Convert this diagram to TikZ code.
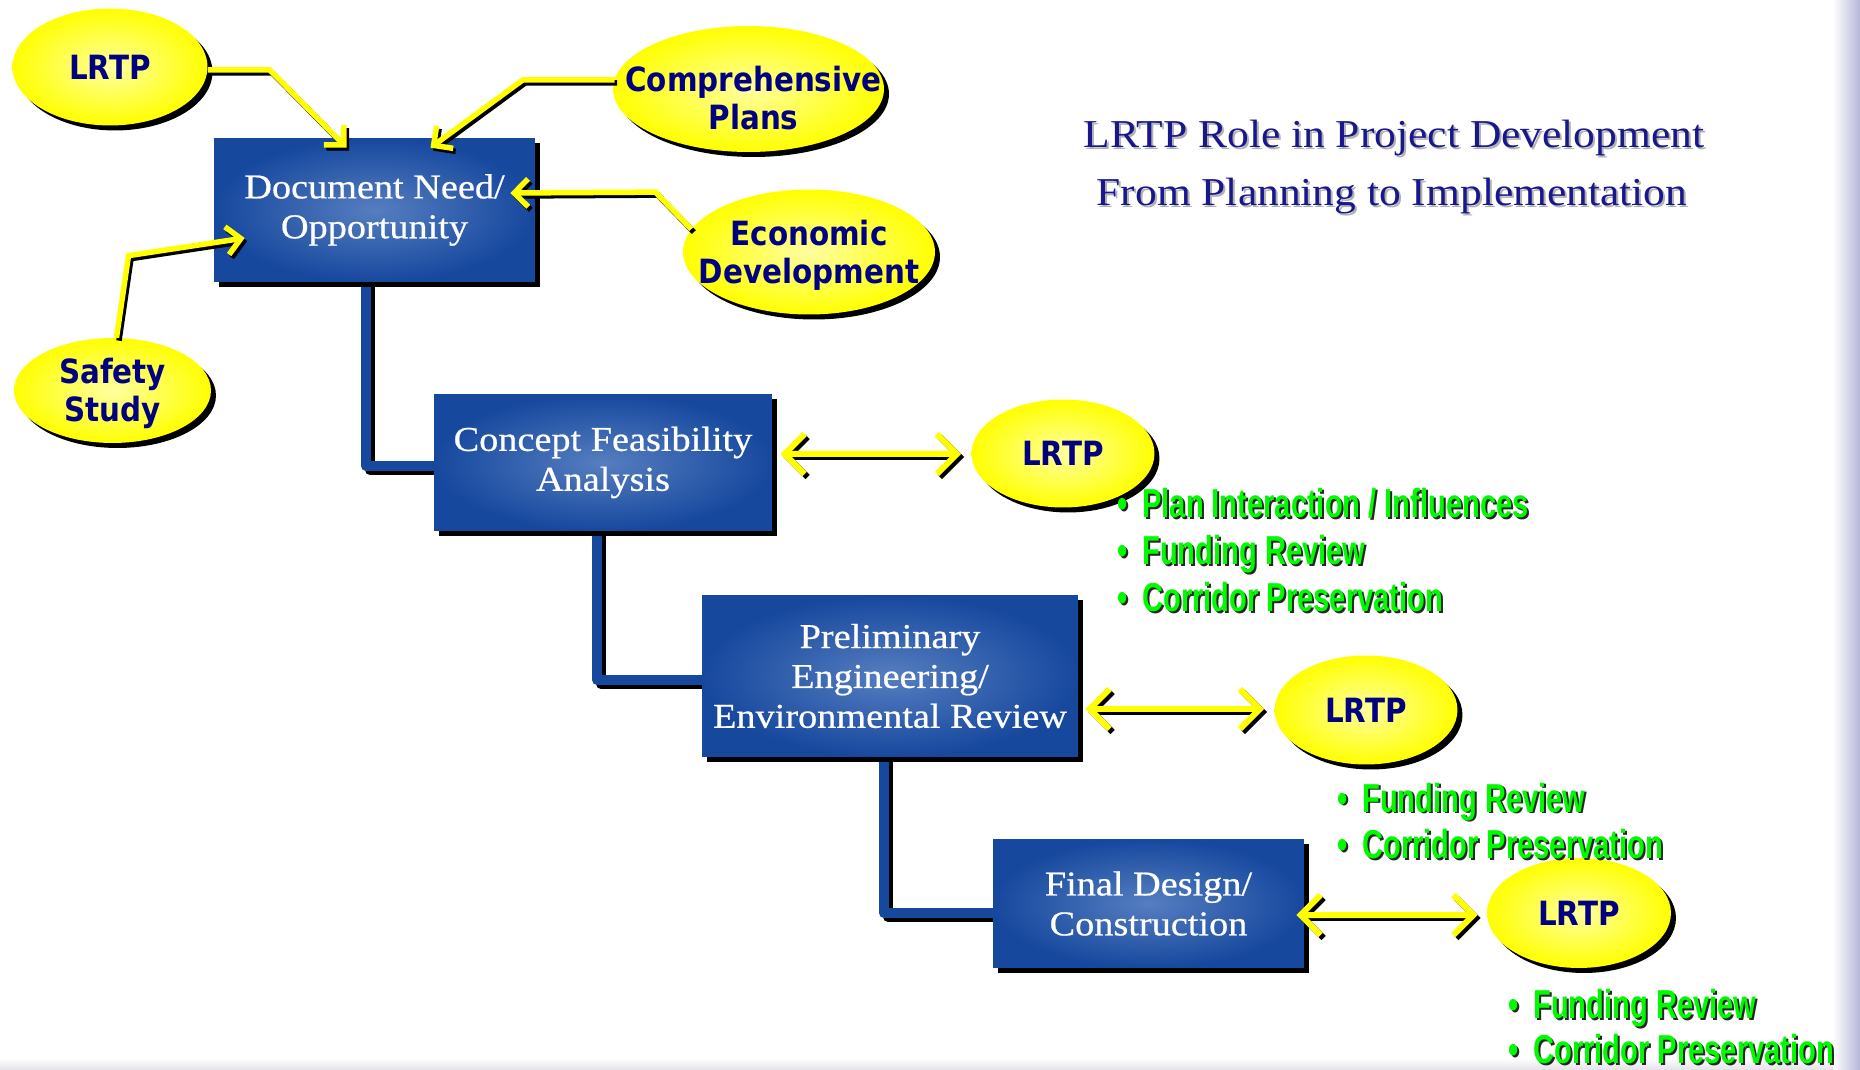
\documentclass[tikz,border=0pt]{standalone}
\usepackage{fontspec}
\usepackage{tikz}
\usetikzlibrary{calc, shapes, shadows, arrows.meta}

\newfontfamily\stepfont{Liberation Serif}[FakeStretch=1.1, FakeBold=0.6]
\newfontfamily\headfont{Liberation Serif}[FakeStretch=1.1]
\newfontfamily\ovalfont{DejaVu Sans}[FakeStretch=0.88]
\newfontfamily\notefont{Liberation Sans}[FakeStretch=0.72]

\definecolor{boxblue}{RGB}{22,72,158}
\definecolor{boxlight}{RGB}{86,126,192}
\definecolor{ovalyellow}{RGB}{255,255,0}
\definecolor{ovallight}{RGB}{255,255,160}
\definecolor{ovalnavy}{RGB}{0,0,128}
\definecolor{notegreen}{RGB}{0,250,0}
\definecolor{headnavy}{RGB}{24,24,140}
\definecolor{edgeblue}{RGB}{182,182,216}
\definecolor{edgegray}{RGB}{226,226,232}

\pgfdeclarelayer{background}
\pgfsetlayers{background,main}

\begin{document}
\begin{tikzpicture}[x=0.02cm, y=-0.02cm]

    \tikzstyle{stepbox}=[rectangle, inner sep=0pt, inner color=boxlight, outer color=boxblue, text=white, align=center, font=\stepfont\fontsize{19.8}{22.7}\selectfont, drop shadow={shadow xshift=1mm, shadow yshift=-1mm, fill=black, opacity=1}];
    \tikzstyle{oval}=[ellipse, inner sep=0pt, inner color=ovallight, outer color=ovalyellow, drop shadow={shadow xshift=1mm, shadow yshift=-1mm, fill=black, opacity=1}];
    \tikzstyle{ovaltext}=[inner sep=0pt, text=ovalnavy, align=center, font=\ovalfont\bfseries\fontsize{19}{21.5}\selectfont];
    \tikzstyle{feed}=[line width=1.1mm, ovalyellow, -{Straight Barb[length=2.8mm, width=5.6mm]}];
    \tikzstyle{feedshadow}=[feed, black, transform canvas={xshift=0.5mm, yshift=-0.6mm}];
    \tikzstyle{exchange}=[line width=1.2mm, ovalyellow, {Straight Barb[length=4mm, width=8mm]}-{Straight Barb[length=4mm, width=8mm]}];
    \tikzstyle{exchangeshadow}=[exchange, black, transform canvas={xshift=0.6mm, yshift=-0.6mm}];
    \tikzstyle{link}=[line width=2mm, boxblue, line join=round];
    \tikzstyle{linkshadow}=[link, black, transform canvas={xshift=0.8mm, yshift=-0.8mm}];
    \tikzstyle{note}=[anchor=base west, inner sep=0pt, text=notegreen, font=\notefont\bfseries\fontsize{23}{26}\selectfont];
    \tikzstyle{noteshadow}=[note, text=black!85];
    \tikzstyle{headline}=[anchor=base, inner sep=0pt, text=headnavy, font=\headfont\fontsize{22.5}{34}\selectfont];
    \tikzstyle{headshadow}=[headline, text=black!30];

    \useasboundingbox (0,0) rectangle (1860,1070);

    % process steps
    \node[stepbox, minimum width=64.2mm, minimum height=28.8mm] (b1) at (374.5,210) {Document Need/\\Opportunity};
    \node[stepbox, minimum width=67.6mm, minimum height=27.4mm] (b2) at (603,462.5) {Concept Feasibility\\Analysis};
    \node[stepbox, minimum width=75.2mm, minimum height=32.4mm] (b3) at (890,676) {Preliminary\\Engineering/\\Environmental Review};
    \node[stepbox, minimum width=62.2mm, minimum height=25.8mm] (b4) at (1148.5,903.5) {Final Design/\\Construction};

    % inputs
    \node[oval, minimum width=39mm, minimum height=23.4mm, label={[ovaltext]center:LRTP}] (l1) at (110,67) {};
    \node[oval, minimum width=54.2mm, minimum height=25.2mm, label={[ovaltext, xshift=1mm, yshift=-1.8mm]center:{Comprehensive\\Plans}}] (cp) at (748.5,89) {};
    \node[oval, minimum width=50.4mm, minimum height=25mm, label={[ovaltext, yshift=-0.7mm]center:{Economic\\Development}}] (ec) at (809,252) {};
    \node[oval, minimum width=39.4mm, minimum height=21mm, label={[ovaltext, yshift=-0.6mm]center:{Safety\\Study}}] (sf) at (112.5,390.5) {};

    \node[oval, minimum width=36.6mm, minimum height=21.6mm, label={[ovaltext]center:LRTP}] (l2) at (1063,453.5) {};
    \node[oval, minimum width=36.6mm, minimum height=21.8mm, label={[ovaltext]center:LRTP}] (l3) at (1366,710) {};
    \node[oval, minimum width=36.8mm, minimum height=22mm, label={[ovaltext]center:LRTP}] (l4) at (1579,913) {};

    \begin{pgfonlayer}{background}
    \fill[white] (0,0) rectangle (1860,1070);
    \shade[left color=white, right color=edgeblue] (1833,0) rectangle (1860,1070);
    \shade[top color=white, bottom color=edgegray] (0,1058) rectangle (1833,1070);

    \draw[linkshadow] ([xshift=-1.7mm]b1.south) |- ([yshift=-0.7mm]b2.west);
    \draw[link] ([xshift=-1.7mm]b1.south) |- ([yshift=-0.7mm]b2.west);
    \draw[linkshadow] ([xshift=-1.2mm]b2.south) |- ([yshift=-0.8mm]b3.west);
    \draw[link] ([xshift=-1.2mm]b2.south) |- ([yshift=-0.8mm]b3.west);
    \draw[linkshadow] ([xshift=-1.2mm]b3.south) |- ([yshift=-1.9mm]b4.west);
    \draw[link] ([xshift=-1.2mm]b3.south) |- ([yshift=-1.9mm]b4.west);
    \end{pgfonlayer}

    % arrows into the first step
    \draw[feedshadow] ($(l1.east)+(0,3)$) -- ++(62,0) -- ($(b1.north)+(-28,10)$);
    \draw[feed] ($(l1.east)+(0,3)$) -- ++(62,0) -- ($(b1.north)+(-28,10)$);
    \draw[feedshadow] ($(cp.west)+(2,-9)$) -- ++(-92,0) -- ($(b1.north)+(56,10)$);
    \draw[feed] ($(cp.west)+(2,-9)$) -- ++(-92,0) -- ($(b1.north)+(56,10)$);
    \draw[feedshadow] (ec.169) -- ++(-36,-37) -- ($(b1.east)+(-25,-17)$);
    \draw[feed] (ec.169) -- ++(-36,-37) -- ($(b1.east)+(-25,-17)$);
    \draw[feedshadow] ($(sf.north)+(4,0)$) -- ++(12,-82) -- ($(b1.west)+(31,28)$);
    \draw[feed] ($(sf.north)+(4,0)$) -- ++(12,-82) -- ($(b1.west)+(31,28)$);

    % two way links to the plan
    \draw[exchangeshadow] ($(b2.east)+(8,-8.5)$) -- ($(l2.west)+(-10,0.5)$);
    \draw[exchange] ($(b2.east)+(8,-8.5)$) -- ($(l2.west)+(-10,0.5)$);
    \draw[exchangeshadow] ($(b3.east)+(7,33)$) -- ($(l3.west)+(-10,-1)$);
    \draw[exchange] ($(b3.east)+(7,33)$) -- ($(l3.west)+(-10,-1)$);
    \draw[exchangeshadow] ($(b4.east)+(-8,11.5)$) -- ($(l4.west)+(-9,2)$);
    \draw[exchange] ($(b4.east)+(-8,11.5)$) -- ($(l4.west)+(-9,2)$);

    % notes
    \node[noteshadow] (n1s) at (1144,520) {\llap{\textbullet\hspace{3mm}}Plan Interaction / Influences};
    \node[note] (n1) at (1142,518) {\llap{\textbullet\hspace{3mm}}Plan Interaction / Influences};
    \node[noteshadow] (n2s) at (1144,567) {\llap{\textbullet\hspace{3mm}}Funding Review};
    \node[note] (n2) at (1142,565) {\llap{\textbullet\hspace{3mm}}Funding Review};
    \node[noteshadow] (n3s) at (1144,614) {\llap{\textbullet\hspace{3mm}}Corridor Preservation};
    \node[note] (n3) at (1142,612) {\llap{\textbullet\hspace{3mm}}Corridor Preservation};

    \node[noteshadow] (n4s) at (1364,814) {\llap{\textbullet\hspace{3mm}}Funding Review};
    \node[note] (n4) at (1362,812) {\llap{\textbullet\hspace{3mm}}Funding Review};
    \node[noteshadow] (n5s) at (1364,860) {\llap{\textbullet\hspace{3mm}}Corridor Preservation};
    \node[note] (n5) at (1362,858) {\llap{\textbullet\hspace{3mm}}Corridor Preservation};

    \node[noteshadow] (n6s) at (1535,1020) {\llap{\textbullet\hspace{3mm}}Funding Review};
    \node[note] (n6) at (1533,1018) {\llap{\textbullet\hspace{3mm}}Funding Review};
    \node[noteshadow] (n7s) at (1535,1065) {\llap{\textbullet\hspace{3mm}}Corridor Preservation};
    \node[note] (n7) at (1533,1063) {\llap{\textbullet\hspace{3mm}}Corridor Preservation};

    % title
    \node[headshadow] (t1s) at (1396,150) {LRTP Role in Project Development};
    \node[headline] (t1) at (1394,148) {LRTP Role in Project Development};
    \node[headshadow] (t2s) at (1394,208) {From Planning to Implementation};
    \node[headline] (t2) at (1392,206) {From Planning to Implementation};

\end{tikzpicture}
\end{document}
